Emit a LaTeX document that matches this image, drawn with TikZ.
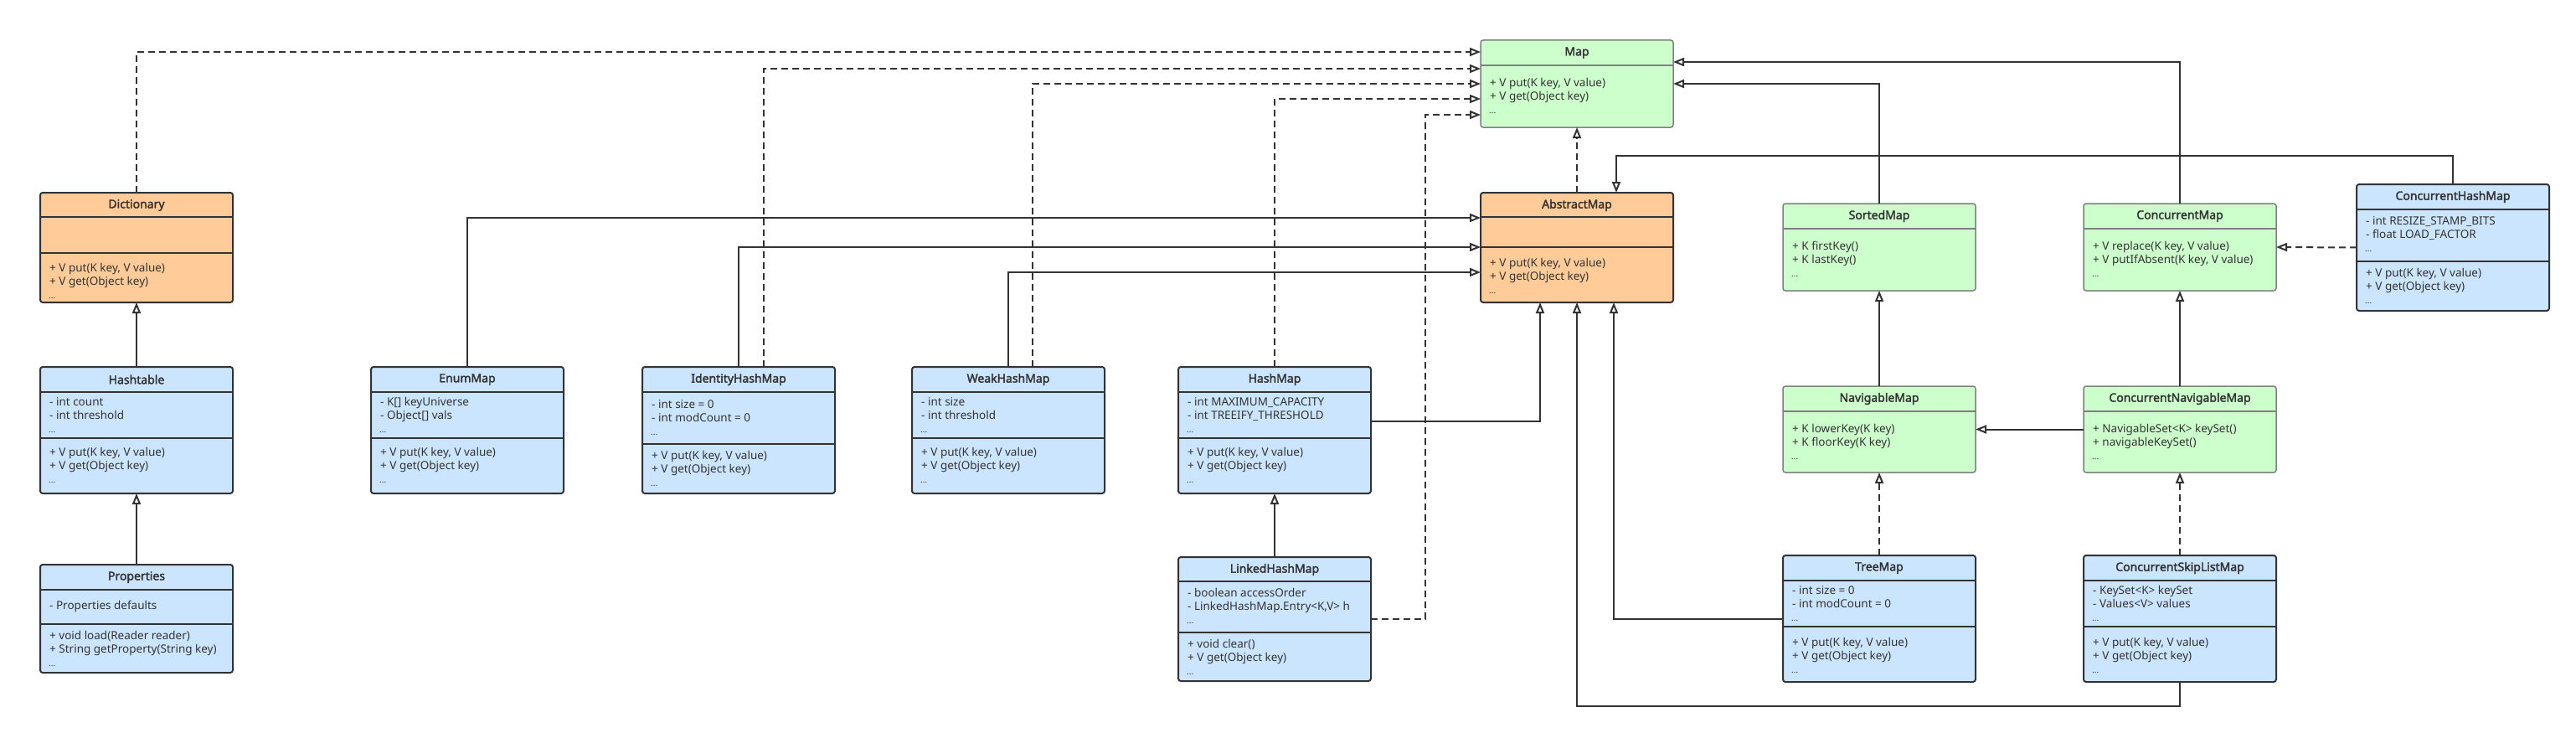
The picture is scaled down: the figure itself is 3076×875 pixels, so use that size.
\documentclass[tikz,border=0pt]{standalone}
\usepackage{fontspec}
\setmainfont{Noto Sans}
\newfontfamily\titlefont{Noto Sans}[FakeBold=2.2]
\usetikzlibrary{arrows.meta}
\definecolor{bluefill}{HTML}{CCE5FF}
\definecolor{orangefill}{HTML}{FFCC99}
\definecolor{greenfill}{HTML}{CCFFCC}
\definecolor{ink}{HTML}{333333}
\definecolor{greyline}{HTML}{7F7F7F}
\tikzset{
  basecls/.style={line width=2pt, rounded corners=3pt, minimum width=230pt, anchor=north west, inner sep=0pt, outer sep=0pt},
  blue cls/.style={basecls, draw=ink, fill=bluefill},
  orange cls/.style={basecls, draw=ink, fill=orangefill},
  green cls/.style={basecls, draw=greyline, line width=1.5pt, fill=greenfill},
  blue sep/.style={draw=ink, line width=2pt},
  orange sep/.style={draw=ink, line width=2pt},
  green sep/.style={draw=greyline, line width=1.5pt},
  ttl/.style={font=\fontsize{14}{16}\titlefont, text=ink, anchor=center, inner sep=0pt},
  ln/.style={font=\fontsize{13.5}{16}\selectfont, text=ink, anchor=base west, inner sep=0pt},
  dotln/.style={font=\fontsize{10}{12}\selectfont, text=ink, anchor=base west, inner sep=0pt},
  rel/.style={draw=ink, line width=2pt, -{Triangle[open, length=13pt, width=10pt, fill=white]}},
  real/.style={rel, dash pattern=on 8pt off 5pt},
}
\newcommand{\umlbox}[7]{%
  \node[#2 cls, minimum height=#5pt] (#1) at (#3,#4) {};
  \foreach \s in {#7} {\draw[#2 sep] ([yshift=-\s pt]#1.north west) -- ([yshift=-\s pt]#1.north east);}
  \node[ttl] (#1-title) at ([yshift=-15pt]#1.north) {#6};
}
\newcommand{\tl}[3]{\node[ln] (#1-#2) at ([xshift=11pt,yshift=-#2pt]#1.north west) {#3};}
\newcommand{\dl}[2]{\node[dotln] (#1-#2) at ([xshift=10pt,yshift=-#2pt]#1.north west) {...};}
\begin{document}
\begin{tikzpicture}[x=1pt,y=-1pt]
\fill[white] (0,0) rectangle (3076,875);
\useasboundingbox (0,0) rectangle (3076,875);

% ---------- classes ----------
\umlbox{dict}{orange}{48}{230}{131}{Dictionary}{29,72}
\tl{dict}{94}{+ V put(K key, V value)}
\tl{dict}{110}{+ V get(Object key)}
\dl{dict}{126}

\umlbox{hashtable}{blue}{48}{438}{151}{Hashtable}{30,85}
\tl{hashtable}{46}{- int count}
\tl{hashtable}{62}{- int threshold}
\dl{hashtable}{78}
\tl{hashtable}{106}{+ V put(K key, V value)}
\tl{hashtable}{122}{+ V get(Object key)}
\dl{hashtable}{138}

\umlbox{properties}{blue}{48}{674}{129}{Properties}{30,71}
\tl{properties}{53}{- Properties defaults}
\tl{properties}{89}{+ void load(Reader reader)}
\tl{properties}{105}{+ String getProperty(String key)}
\dl{properties}{121}

\umlbox{enummap}{blue}{443}{438}{151}{EnumMap}{30,85}
\tl{enummap}{46}{- K[] keyUniverse}
\tl{enummap}{62}{- Object[] vals}
\dl{enummap}{78}
\tl{enummap}{106}{+ V put(K key, V value)}
\tl{enummap}{122}{+ V get(Object key)}
\dl{enummap}{138}

\umlbox{identity}{blue}{767}{438}{151}{IdentityHashMap}{30,92}
\tl{identity}{49}{- int size = 0}
\tl{identity}{65}{- int modCount = 0}
\dl{identity}{81}
\tl{identity}{110}{+ V put(K key, V value)}
\tl{identity}{126}{+ V get(Object key)}
\dl{identity}{142}

\umlbox{weak}{blue}{1089}{438}{151}{WeakHashMap}{30,85}
\tl{weak}{46}{- int size}
\tl{weak}{62}{- int threshold}
\dl{weak}{78}
\tl{weak}{106}{+ V put(K key, V value)}
\tl{weak}{122}{+ V get(Object key)}
\dl{weak}{138}

\umlbox{hashmap}{blue}{1407}{438}{151}{HashMap}{30,85}
\tl{hashmap}{46}{- int MAXIMUM\_CAPACITY}
\tl{hashmap}{62}{- int TREEIFY\_THRESHOLD}
\dl{hashmap}{78}
\tl{hashmap}{106}{+ V put(K key, V value)}
\tl{hashmap}{122}{+ V get(Object key)}
\dl{hashmap}{138}

\umlbox{linked}{blue}{1407}{665}{148}{LinkedHashMap}{29,90}
\tl{linked}{47}{- boolean accessOrder}
\tl{linked}{63}{- LinkedHashMap.Entry<K,V> h}
\dl{linked}{79}
\tl{linked}{108}{+ void clear()}
\tl{linked}{124}{+ V get(Object key)}
\dl{linked}{140}

\umlbox{map}{green}{1768}{48}{104}{Map}{30}
\tl{map}{55}{+ V put(K key, V value)}
\tl{map}{71}{+ V get(Object key)}
\dl{map}{87}

\umlbox{abstract}{orange}{1768}{230}{131}{AbstractMap}{29,65}
\tl{abstract}{88}{+ V put(K key, V value)}
\tl{abstract}{104}{+ V get(Object key)}
\dl{abstract}{120}

\umlbox{sorted}{green}{2129}{243}{104}{SortedMap}{30}
\tl{sorted}{55}{+ K firstKey()}
\tl{sorted}{71}{+ K lastKey()}
\dl{sorted}{87}

\umlbox{concmap}{green}{2488}{243}{104}{ConcurrentMap}{30}
\tl{concmap}{55}{+ V replace(K key, V value)}
\tl{concmap}{71}{+ V putIfAbsent(K key, V value)}
\dl{concmap}{87}

\umlbox{navig}{green}{2129}{461}{103}{NavigableMap}{30}
\tl{navig}{55}{+ K lowerKey(K key)}
\tl{navig}{71}{+ K floorKey(K key)}
\dl{navig}{87}

\umlbox{concnav}{green}{2488}{461}{103}{ConcurrentNavigableMap}{30}
\tl{concnav}{55}{+ NavigableSet<K> keySet()}
\tl{concnav}{71}{+ navigableKeySet()}
\dl{concnav}{87}

\umlbox{treemap}{blue}{2129}{663}{151}{TreeMap}{30,85}
\tl{treemap}{46}{- int size = 0}
\tl{treemap}{62}{- int modCount = 0}
\dl{treemap}{78}
\tl{treemap}{108}{+ V put(K key, V value)}
\tl{treemap}{124}{+ V get(Object key)}
\dl{treemap}{140}

\umlbox{skiplist}{blue}{2488}{663}{151}{ConcurrentSkipListMap}{30,85}
\tl{skiplist}{46}{- KeySet<K> keySet}
\tl{skiplist}{62}{- Values<V> values}
\dl{skiplist}{78}
\tl{skiplist}{108}{+ V put(K key, V value)}
\tl{skiplist}{124}{+ V get(Object key)}
\dl{skiplist}{140}

\umlbox{chm}{blue}{2814}{220}{151}{ConcurrentHashMap}{30,92}
\tl{chm}{48}{- int RESIZE\_STAMP\_BITS}
\tl{chm}{64}{- float LOAD\_FACTOR}
\dl{chm}{80}
\tl{chm}{110}{+ V put(K key, V value)}
\tl{chm}{126}{+ V get(Object key)}
\dl{chm}{142}

% ---------- helper levels ----------
\coordinate (lv62) at (0,62);
\coordinate (lv74) at (0,74);
\coordinate (lv82) at (0,82);
\coordinate (lv100) at (0,100);
\coordinate (lv118) at (0,118);
\coordinate (lv260) at (0,260);
\coordinate (lv295) at (0,295);
\coordinate (lv325) at (0,325);
\coordinate (lv843) at (0,843);
\coordinate (lk) at (1702,137);
\coordinate (ch) at (1930,186);

% ---------- connectors ----------
\draw[rel] (hashtable.north) -- (dict.south);
\draw[rel] (properties.north) -- (hashtable.south);
\draw[real] (dict.north) |- (map.west |- lv62);

\draw[rel] (enummap.north) |- (abstract.west |- lv260);
\draw[rel] (identity.north) |- (abstract.west |- lv295);
\draw[real] ([xshift=30pt]identity.north) |- (map.west |- lv82);
\draw[rel] (weak.north) |- (abstract.west |- lv325);
\draw[real] ([xshift=29pt]weak.north) |- (map.west |- lv100);
\draw[real] (hashmap.north) |- (map.west |- lv118);
\draw[rel] ([yshift=-65pt]hashmap.north east) -| ([xshift=-44pt]abstract.south);
\draw[rel] (linked.north) -- (hashmap.south);
\draw[real] ([yshift=-74pt]linked.north east) -| (lk) -- (map.west |- lk);

\draw[real] (abstract.north) -- (map.south);
\draw[rel] (treemap.west) -| ([xshift=44pt]abstract.south);
\draw[rel] (skiplist.south) |- (abstract.south |- lv843) -- (abstract.south);
\draw[rel] (chm.north) |- (ch) -- ([xshift=47pt]abstract.north);
\draw[real] (chm.west) -- (concmap.east);

\draw[rel] (sorted.north) |- (map.east |- lv100);
\draw[rel] (concmap.north) |- (map.east |- lv74);
\draw[rel] (navig.north) -- (sorted.south);
\draw[rel] (concnav.west) -- (navig.east);
\draw[real] (treemap.north) -- (navig.south);
\draw[rel] (concnav.north) -- (concmap.south);
\draw[real] (skiplist.north) -- (concnav.south);
\end{tikzpicture}
\end{document}
